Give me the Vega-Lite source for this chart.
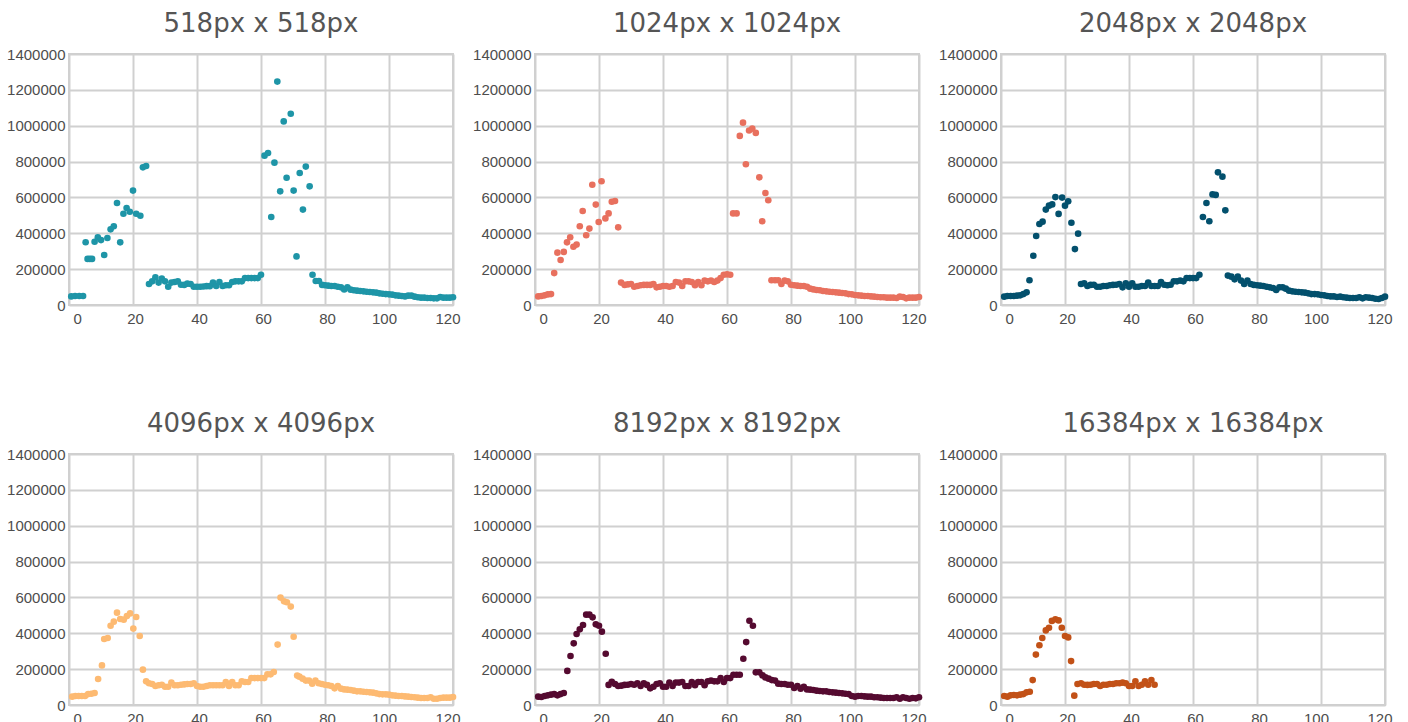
{
  "$schema": "https://vega.github.io/schema/vega-lite/v6.json",
  "padding": {"left": 5, "top": 10, "right": 0, "bottom": 0},
  "background": "white",
  "config": {
    "view": {"stroke": "#cfcfcf", "strokeWidth": 2},
    "title": {"font": "DejaVu Sans", "fontSize": 26, "fontWeight": "normal", "color": "#555555", "offset": 10},
    "axis": {
      "labelFont": "Liberation Sans",
      "labelFontSize": 15,
      "labelColor": "#4d4d4d",
      "gridColor": "#d0d0d0",
      "gridWidth": 2,
      "ticks": false,
      "domain": false,
      "title": null
    },
    "axisX": {
      "labelFlush": true,
      "labelPadding": 6,
      "labelOffset": {"expr": "datum.value == 0 ? 4 : datum.value == 100 ? -5 : datum.value == 120 ? 7 : 2"}
    },
    "axisY": {"labelPadding": 4},
    "circle": {"size": 44, "opacity": 1}
  },
  "datasets": {
    "p518": [
      {"x":0.7,"y":48000},{"x":1.9,"y":50000},{"x":3.2,"y":50000},{"x":4.4,"y":50000},{"x":5.2,"y":350000},{"x":5.8,"y":257000},{"x":6.5,"y":257000},{"x":7.2,"y":257000},{"x":8,"y":353000},{"x":9,"y":377000},{"x":10,"y":362000},{"x":11,"y":279000},{"x":12,"y":374000},{"x":13,"y":422000},{"x":14,"y":439000},{"x":15,"y":569000},{"x":16,"y":349500},{"x":17,"y":509000},{"x":18,"y":541000},{"x":19,"y":520000},{"x":20,"y":638000},{"x":21,"y":509000},{"x":22.3,"y":498000},{"x":23.1,"y":768000},{"x":24.1,"y":775000},
      {"x":25,"y":117000},{"x":26,"y":132000},{"x":27,"y":154000},{"x":28,"y":125000},{"x":29,"y":148000},{"x":30,"y":132000},{"x":31,"y":102000},{"x":32,"y":125000},{"x":33,"y":128000},{"x":34,"y":132000},{"x":35,"y":113000},{"x":36,"y":112000},{"x":37,"y":119000},{"x":38,"y":117000},{"x":39,"y":102000},{"x":40,"y":102000},{"x":41,"y":102000},{"x":42,"y":103000},{"x":43,"y":105000},{"x":44,"y":105000},{"x":45,"y":125000},{"x":46,"y":106000},{"x":47,"y":128000},{"x":48,"y":106000},{"x":49,"y":110000},{"x":50,"y":110000},{"x":51,"y":128000},{"x":52,"y":132000},{"x":53,"y":132000},{"x":54,"y":132000},{"x":55,"y":150000},{"x":56,"y":150000},{"x":57,"y":150000},{"x":58,"y":150000},{"x":59,"y":150000},{"x":60,"y":169000},
      {"x":61.1,"y":833000},{"x":62.2,"y":848000},{"x":63.2,"y":491000},{"x":64.2,"y":794000},{"x":65.1,"y":1246000},{"x":66,"y":634000},{"x":67.1,"y":1024000},{"x":68,"y":710000},{"x":69.3,"y":1067000},{"x":70.2,"y":638000},{"x":71.1,"y":271000},{"x":72.1,"y":736000},{"x":73.1,"y":532000},{"x":74,"y":772000},{"x":75.2,"y":662000},{"x":76.1,"y":169000},{"x":77.1,"y":134000},{"x":78.1,"y":134000},{"x":79.1,"y":112000},
      {"x":80,"y":110000},{"x":81,"y":108000},{"x":82,"y":106000},{"x":83,"y":106000},{"x":84,"y":102000},{"x":85,"y":98500},{"x":86,"y":87000},{"x":87,"y":98500},{"x":88,"y":85500},{"x":89,"y":82000},{"x":90,"y":80000},{"x":91,"y":78000},{"x":92,"y":76000},{"x":93,"y":74000},{"x":94,"y":72500},{"x":95,"y":70500},{"x":96,"y":69000},{"x":97,"y":65000},{"x":98,"y":63000},{"x":99,"y":61000},{"x":100,"y":59500},{"x":101,"y":57500},{"x":102,"y":54000},{"x":103,"y":52000},{"x":104,"y":50000},{"x":105,"y":48000},{"x":106,"y":52000},{"x":107,"y":52000},{"x":108,"y":46500},{"x":109,"y":43000},{"x":110,"y":41000},{"x":111,"y":41000},{"x":112,"y":39000},{"x":113,"y":39000},{"x":114,"y":37000},{"x":115,"y":37000},{"x":116,"y":44600},{"x":117,"y":41000},{"x":118,"y":41000},{"x":119,"y":41000},{"x":120,"y":43000}
    ],
    "p1024": [
      {"x":1,"y":48000},{"x":2,"y":50000},{"x":3,"y":54000},{"x":4,"y":59000},{"x":5,"y":61000},{"x":6,"y":178000},{"x":7,"y":292000},{"x":8,"y":251000},{"x":9,"y":296000},{"x":10,"y":349500},{"x":11,"y":378000},{"x":12,"y":325000},{"x":13,"y":337000},{"x":14,"y":439000},{"x":14.9,"y":524000},{"x":16,"y":389000},{"x":17,"y":426000},{"x":17.9,"y":671000},{"x":19,"y":560000},{"x":19.9,"y":463000},{"x":20.8,"y":690000},{"x":22,"y":483000},{"x":23,"y":511000},{"x":24,"y":576000},{"x":25,"y":580000},{"x":26,"y":433000},{"x":26.9,"y":125000},
      {"x":28,"y":112000},{"x":29,"y":115000},{"x":30,"y":117000},{"x":31,"y":102000},{"x":32,"y":106000},{"x":33,"y":110000},{"x":34,"y":112000},{"x":35,"y":112000},{"x":36,"y":112000},{"x":37,"y":117000},{"x":38,"y":98500},{"x":39,"y":102000},{"x":40,"y":106000},{"x":41,"y":106000},{"x":42,"y":102000},{"x":43,"y":106000},{"x":44,"y":128000},{"x":45,"y":125000},{"x":46,"y":106000},{"x":47,"y":132000},{"x":48,"y":132000},{"x":49,"y":128000},{"x":50,"y":110000},{"x":51,"y":128000},{"x":52,"y":110000},{"x":53,"y":136000},{"x":54,"y":132000},{"x":55,"y":136000},{"x":56,"y":128000},{"x":57,"y":136000},{"x":58,"y":150000},{"x":59,"y":169000},{"x":60,"y":171000},{"x":61,"y":169000},
      {"x":61.9,"y":511000},{"x":63,"y":511000},{"x":64,"y":943000},{"x":65,"y":1017000},{"x":65.9,"y":785000},{"x":66.9,"y":973000},{"x":67.9,"y":984000},{"x":69,"y":960000},{"x":70.1,"y":712000},{"x":71,"y":467000},{"x":72,"y":625000},{"x":72.9,"y":584000},
      {"x":73.9,"y":138000},{"x":75,"y":138000},{"x":76,"y":138000},{"x":77,"y":117000},{"x":78,"y":136000},{"x":79,"y":132000},{"x":80,"y":113000},{"x":81,"y":110000},{"x":82,"y":108000},{"x":83,"y":106000},{"x":84,"y":106000},{"x":85,"y":102000},{"x":86,"y":91000},{"x":87,"y":87000},{"x":88,"y":83600},{"x":89,"y":82000},{"x":90,"y":78000},{"x":91,"y":76000},{"x":92,"y":74000},{"x":93,"y":72500},{"x":94,"y":70500},{"x":95,"y":69000},{"x":96,"y":67000},{"x":97,"y":65000},{"x":98,"y":61000},{"x":99,"y":59500},{"x":100,"y":56000},{"x":101,"y":54000},{"x":102,"y":52000},{"x":103,"y":50000},{"x":104,"y":50000},{"x":105,"y":48000},{"x":106,"y":46500},{"x":107,"y":44600},{"x":108,"y":43000},{"x":109,"y":43000},{"x":110,"y":41000},{"x":111,"y":41000},{"x":112,"y":41000},{"x":113,"y":39000},{"x":114,"y":46500},{"x":115,"y":44600},{"x":116,"y":37000},{"x":117,"y":41000},{"x":118,"y":41000},{"x":119,"y":41000},{"x":120,"y":44600}
    ],
    "p2048": [
      {"x":1,"y":46500},{"x":2,"y":50000},{"x":3,"y":50000},{"x":4,"y":50000},{"x":5,"y":52000},{"x":6,"y":54000},{"x":7,"y":61000},{"x":8,"y":70500},{"x":8.9,"y":138000},{"x":10.1,"y":275000},{"x":11,"y":385000},{"x":12,"y":452000},{"x":13,"y":465000},{"x":14,"y":532000},{"x":15,"y":554000},{"x":16,"y":561000},{"x":17,"y":602000},{"x":18,"y":508000},{"x":19.1,"y":599000},{"x":20,"y":554000},{"x":21,"y":578000},{"x":22,"y":459000},{"x":23.1,"y":312000},{"x":24.1,"y":398000},
      {"x":25,"y":117000},{"x":26,"y":121000},{"x":27,"y":106000},{"x":28,"y":112000},{"x":29,"y":113000},{"x":30,"y":102000},{"x":31,"y":102000},{"x":32,"y":106000},{"x":33,"y":106000},{"x":34,"y":110000},{"x":35,"y":112000},{"x":36,"y":113000},{"x":37,"y":117000},{"x":38,"y":98500},{"x":39,"y":121000},{"x":40,"y":102000},{"x":41,"y":121000},{"x":42,"y":102000},{"x":43,"y":102000},{"x":44,"y":106000},{"x":45,"y":106000},{"x":46,"y":125000},{"x":47,"y":106000},{"x":48,"y":106000},{"x":49,"y":106000},{"x":50,"y":128000},{"x":51,"y":113000},{"x":52,"y":110000},{"x":53,"y":113000},{"x":54,"y":132000},{"x":55,"y":132000},{"x":56,"y":136000},{"x":57,"y":132000},{"x":58,"y":150000},{"x":59,"y":150000},{"x":60,"y":150000},{"x":61,"y":150000},{"x":62,"y":169000},
      {"x":63.1,"y":491000},{"x":64.2,"y":569000},{"x":65.1,"y":467000},{"x":66.1,"y":617000},{"x":67.1,"y":614000},{"x":67.8,"y":740000},{"x":69.2,"y":716000},{"x":70.1,"y":528000},
      {"x":70.9,"y":164000},{"x":72,"y":158000},{"x":73,"y":143000},{"x":74,"y":158000},{"x":75,"y":136000},{"x":76,"y":117000},{"x":77,"y":136000},{"x":78,"y":117000},{"x":79,"y":112000},{"x":80,"y":110000},{"x":81,"y":108000},{"x":82,"y":106000},{"x":83,"y":102000},{"x":84,"y":98500},{"x":85,"y":95000},{"x":86,"y":83600},{"x":87,"y":98500},{"x":88,"y":98500},{"x":89,"y":91000},{"x":90,"y":80000},{"x":91,"y":76000},{"x":92,"y":74000},{"x":93,"y":72500},{"x":94,"y":70500},{"x":95,"y":69000},{"x":96,"y":65000},{"x":97,"y":61000},{"x":98,"y":61000},{"x":99,"y":59500},{"x":100,"y":56000},{"x":101,"y":54000},{"x":102,"y":50000},{"x":103,"y":48000},{"x":104,"y":48000},{"x":105,"y":44600},{"x":106,"y":46500},{"x":107,"y":43000},{"x":108,"y":41000},{"x":109,"y":39000},{"x":110,"y":39000},{"x":111,"y":39000},{"x":112,"y":43000},{"x":113,"y":37000},{"x":114,"y":43000},{"x":115,"y":41000},{"x":116,"y":39000},{"x":117,"y":35000},{"x":118,"y":33500},{"x":119,"y":39000},{"x":120,"y":46500}
    ],
    "p4096": [
      {"x":1,"y":46500},{"x":2,"y":50000},{"x":3,"y":50000},{"x":4,"y":50000},{"x":5,"y":50000},{"x":6,"y":61000},{"x":7,"y":63000},{"x":8,"y":67000},{"x":9.1,"y":145000},{"x":10.3,"y":221000},{"x":11,"y":368000},{"x":12.1,"y":374000},{"x":13,"y":442000},{"x":14,"y":465000},{"x":15,"y":515000},{"x":16,"y":480000},{"x":17.1,"y":476000},{"x":18.1,"y":496000},{"x":19.1,"y":511000},{"x":20.1,"y":426000},{"x":21,"y":491000},{"x":22.1,"y":385000},{"x":23.1,"y":197000},{"x":24.1,"y":132000},
      {"x":25,"y":121000},{"x":26,"y":117000},{"x":27,"y":106000},{"x":28,"y":110000},{"x":29,"y":113000},{"x":30,"y":102000},{"x":31,"y":102000},{"x":32,"y":125000},{"x":33,"y":110000},{"x":34,"y":110000},{"x":35,"y":113000},{"x":36,"y":115000},{"x":37,"y":117000},{"x":38,"y":117000},{"x":39,"y":121000},{"x":40,"y":106000},{"x":41,"y":102000},{"x":42,"y":102000},{"x":43,"y":106000},{"x":44,"y":110000},{"x":45,"y":110000},{"x":46,"y":110000},{"x":47,"y":110000},{"x":48,"y":110000},{"x":49,"y":128000},{"x":50,"y":106000},{"x":51,"y":128000},{"x":52,"y":110000},{"x":53,"y":110000},{"x":54,"y":132000},{"x":55,"y":128000},{"x":56,"y":128000},{"x":57,"y":150000},{"x":58,"y":150000},{"x":59,"y":150000},{"x":60,"y":150000},{"x":61,"y":150000},{"x":62,"y":171000},{"x":63,"y":171000},{"x":64,"y":184000},
      {"x":65.2,"y":337000},{"x":66.1,"y":599000},{"x":67.2,"y":578000},{"x":68.1,"y":573000},{"x":69.3,"y":549000},{"x":70.2,"y":381000},
      {"x":71.3,"y":164000},{"x":72,"y":158000},{"x":73,"y":147000},{"x":74,"y":136000},{"x":75,"y":136000},{"x":76,"y":119000},{"x":77,"y":136000},{"x":78,"y":121000},{"x":79,"y":117000},{"x":80,"y":113000},{"x":81,"y":110000},{"x":82,"y":106000},{"x":83,"y":93000},{"x":84,"y":106000},{"x":85,"y":91000},{"x":86,"y":87000},{"x":87,"y":85500},{"x":88,"y":83600},{"x":89,"y":80000},{"x":90,"y":76000},{"x":91,"y":76000},{"x":92,"y":74000},{"x":93,"y":72500},{"x":94,"y":70500},{"x":95,"y":69000},{"x":96,"y":65000},{"x":97,"y":61000},{"x":98,"y":59500},{"x":99,"y":59500},{"x":100,"y":57500},{"x":101,"y":54000},{"x":102,"y":52000},{"x":103,"y":50000},{"x":104,"y":50000},{"x":105,"y":48000},{"x":106,"y":46500},{"x":107,"y":44600},{"x":108,"y":43000},{"x":109,"y":41000},{"x":110,"y":39000},{"x":111,"y":39000},{"x":112,"y":39000},{"x":113,"y":43000},{"x":114,"y":35000},{"x":115,"y":35000},{"x":116,"y":39000},{"x":117,"y":41000},{"x":118,"y":41000},{"x":119,"y":41000},{"x":120,"y":44600}
    ],
    "p8192": [
      {"x":1,"y":46500},{"x":2,"y":44600},{"x":3,"y":50000},{"x":4,"y":54000},{"x":5,"y":57500},{"x":6,"y":61000},{"x":7,"y":54000},{"x":8,"y":61000},{"x":9,"y":67000},{"x":10.1,"y":190000},{"x":11.1,"y":273000},{"x":12.1,"y":344000},{"x":13,"y":396000},{"x":14,"y":422000},{"x":15,"y":446000},{"x":16,"y":504000},{"x":17,"y":504000},{"x":18,"y":489000},{"x":19,"y":450000},{"x":20,"y":442000},{"x":20.9,"y":409000},{"x":22.1,"y":286000},{"x":23,"y":112000},
      {"x":24,"y":130000},{"x":25,"y":117000},{"x":26,"y":106000},{"x":27,"y":108000},{"x":28,"y":112000},{"x":29,"y":113000},{"x":30,"y":117000},{"x":31,"y":113000},{"x":32,"y":121000},{"x":33,"y":106000},{"x":34,"y":121000},{"x":35,"y":112000},{"x":36,"y":93000},{"x":37,"y":102000},{"x":38,"y":117000},{"x":39,"y":121000},{"x":40,"y":102000},{"x":41,"y":102000},{"x":42,"y":125000},{"x":43,"y":106000},{"x":44,"y":125000},{"x":45,"y":125000},{"x":46,"y":128000},{"x":47,"y":106000},{"x":48,"y":106000},{"x":49,"y":128000},{"x":50,"y":110000},{"x":51,"y":128000},{"x":52,"y":128000},{"x":53,"y":110000},{"x":54,"y":132000},{"x":55,"y":136000},{"x":56,"y":132000},{"x":57,"y":132000},{"x":58,"y":150000},{"x":59,"y":128000},{"x":60,"y":150000},{"x":61,"y":150000},{"x":62,"y":169000},{"x":63,"y":169000},{"x":64,"y":169000},
      {"x":65.1,"y":258000},{"x":66,"y":351000},{"x":67,"y":470000},{"x":68.1,"y":442000},
      {"x":69,"y":182000},{"x":70.1,"y":182000},{"x":71.1,"y":165000},{"x":72,"y":154000},{"x":73,"y":147000},{"x":74,"y":139000},{"x":75,"y":136000},{"x":76,"y":119000},{"x":77,"y":117000},{"x":78,"y":117000},{"x":79,"y":113000},{"x":80,"y":113000},{"x":81,"y":95000},{"x":82,"y":106000},{"x":83,"y":91000},{"x":84,"y":102000},{"x":85,"y":87000},{"x":86,"y":85500},{"x":87,"y":83600},{"x":88,"y":80000},{"x":89,"y":78000},{"x":90,"y":76000},{"x":91,"y":76000},{"x":92,"y":72500},{"x":93,"y":70500},{"x":94,"y":69000},{"x":95,"y":67000},{"x":96,"y":65000},{"x":97,"y":63000},{"x":98,"y":61000},{"x":99,"y":50000},{"x":100,"y":46500},{"x":101,"y":50000},{"x":102,"y":50000},{"x":103,"y":48000},{"x":104,"y":46500},{"x":105,"y":46500},{"x":106,"y":43000},{"x":107,"y":43000},{"x":108,"y":41000},{"x":109,"y":39000},{"x":110,"y":39000},{"x":111,"y":39000},{"x":112,"y":39000},{"x":113,"y":43000},{"x":114,"y":35000},{"x":115,"y":43000},{"x":116,"y":39000},{"x":117,"y":35000},{"x":118,"y":39000},{"x":119,"y":37000},{"x":120,"y":43000}
    ],
    "p16384": [
      {"x":1,"y":50000},{"x":2,"y":46500},{"x":3,"y":54000},{"x":4,"y":56000},{"x":5,"y":54000},{"x":6,"y":57500},{"x":7,"y":61000},{"x":8,"y":70500},{"x":9,"y":74000},{"x":9.9,"y":139000},{"x":10.9,"y":281000},{"x":12,"y":333000},{"x":12.9,"y":374000},{"x":14,"y":416000},{"x":15,"y":431000},{"x":15.9,"y":469000},{"x":17,"y":478000},{"x":18,"y":472000},{"x":19,"y":431000},{"x":20,"y":385000},{"x":21,"y":377000},{"x":21.9,"y":245000},{"x":22.9,"y":52000},{"x":23.9,"y":117000},
      {"x":25,"y":121000},{"x":26,"y":113000},{"x":27,"y":112000},{"x":28,"y":113000},{"x":29,"y":117000},{"x":30,"y":117000},{"x":31,"y":106000},{"x":32,"y":113000},{"x":33,"y":113000},{"x":34,"y":117000},{"x":35,"y":117000},{"x":36,"y":121000},{"x":37,"y":121000},{"x":38,"y":125000},{"x":39,"y":121000},{"x":40,"y":106000},{"x":41,"y":106000},{"x":42,"y":132000},{"x":43,"y":106000},{"x":44,"y":113000},{"x":45,"y":132000},{"x":46,"y":113000},{"x":47,"y":139000},{"x":48,"y":113000}
    ]
  },
  "columns": 3,
  "bounds": "flush",
  "spacing": {"row": 149, "column": 82},
  "concat": [
    {
      "title": "518px x 518px",
      "width": 384, "height": 251,
      "data": {"name": "p518"},
      "mark": {"type": "circle", "color": "#1E95A7"},
      "encoding": {
        "x": {"field": "x", "type": "quantitative", "scale": {"domain": [0, 120], "nice": false, "zero": false}, "axis": {"values": [0, 20, 40, 60, 80, 100, 120]}},
        "y": {"field": "y", "type": "quantitative", "scale": {"domain": [0, 1400000], "nice": false}, "axis": {"values": [0, 200000, 400000, 600000, 800000, 1000000, 1200000, 1400000], "format": "d"}}
      }
    },
    {
      "title": "1024px x 1024px",
      "width": 384, "height": 251,
      "data": {"name": "p1024"},
      "mark": {"type": "circle", "color": "#E8705E"},
      "encoding": {
        "x": {"field": "x", "type": "quantitative", "scale": {"domain": [0, 120], "nice": false, "zero": false}, "axis": {"values": [0, 20, 40, 60, 80, 100, 120]}},
        "y": {"field": "y", "type": "quantitative", "scale": {"domain": [0, 1400000], "nice": false}, "axis": {"values": [0, 200000, 400000, 600000, 800000, 1000000, 1200000, 1400000], "format": "d"}}
      }
    },
    {
      "title": "2048px x 2048px",
      "width": 384, "height": 251,
      "data": {"name": "p2048"},
      "mark": {"type": "circle", "color": "#03506D"},
      "encoding": {
        "x": {"field": "x", "type": "quantitative", "scale": {"domain": [0, 120], "nice": false, "zero": false}, "axis": {"values": [0, 20, 40, 60, 80, 100, 120]}},
        "y": {"field": "y", "type": "quantitative", "scale": {"domain": [0, 1400000], "nice": false}, "axis": {"values": [0, 200000, 400000, 600000, 800000, 1000000, 1200000, 1400000], "format": "d"}}
      }
    },
    {
      "title": "4096px x 4096px",
      "width": 384, "height": 251,
      "data": {"name": "p4096"},
      "mark": {"type": "circle", "color": "#FDBA72"},
      "encoding": {
        "x": {"field": "x", "type": "quantitative", "scale": {"domain": [0, 120], "nice": false, "zero": false}, "axis": {"values": [0, 20, 40, 60, 80, 100, 120]}},
        "y": {"field": "y", "type": "quantitative", "scale": {"domain": [0, 1400000], "nice": false}, "axis": {"values": [0, 200000, 400000, 600000, 800000, 1000000, 1200000, 1400000], "format": "d"}}
      }
    },
    {
      "title": "8192px x 8192px",
      "width": 384, "height": 251,
      "data": {"name": "p8192"},
      "mark": {"type": "circle", "color": "#550A30"},
      "encoding": {
        "x": {"field": "x", "type": "quantitative", "scale": {"domain": [0, 120], "nice": false, "zero": false}, "axis": {"values": [0, 20, 40, 60, 80, 100, 120]}},
        "y": {"field": "y", "type": "quantitative", "scale": {"domain": [0, 1400000], "nice": false}, "axis": {"values": [0, 200000, 400000, 600000, 800000, 1000000, 1200000, 1400000], "format": "d"}}
      }
    },
    {
      "title": "16384px x 16384px",
      "width": 384, "height": 251,
      "data": {"name": "p16384"},
      "mark": {"type": "circle", "color": "#C25117"},
      "encoding": {
        "x": {"field": "x", "type": "quantitative", "scale": {"domain": [0, 120], "nice": false, "zero": false}, "axis": {"values": [0, 20, 40, 60, 80, 100, 120]}},
        "y": {"field": "y", "type": "quantitative", "scale": {"domain": [0, 1400000], "nice": false}, "axis": {"values": [0, 200000, 400000, 600000, 800000, 1000000, 1200000, 1400000], "format": "d"}}
      }
    }
  ]
}
